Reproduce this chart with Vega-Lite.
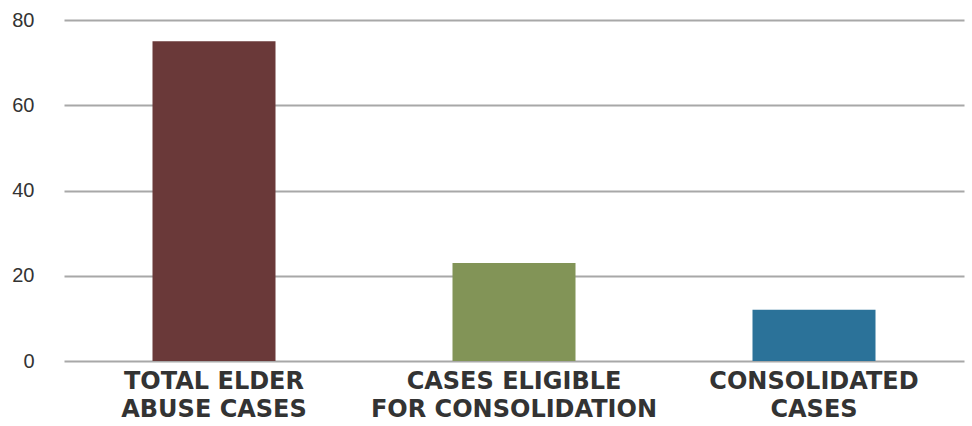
{
  "$schema": "https://vega.github.io/schema/vega-lite/v6.json",
  "autosize": "none",
  "width": 900,
  "height": 341,
  "padding": {"left": 64, "top": 20, "right": 8, "bottom": 65},
  "background": "white",
  "data": {"values": [
    {"category": "TOTAL ELDER|ABUSE CASES", "value": 75, "order": 1},
    {"category": "CASES ELIGIBLE|FOR CONSOLIDATION", "value": 23, "order": 2},
    {"category": "CONSOLIDATED|CASES", "value": 12, "order": 3}
  ]},
  "mark": {"type": "bar"},
  "encoding": {
    "x": {
      "field": "category", "type": "nominal", "sort": {"field": "order"},
      "scale": {"paddingInner": 0.59, "paddingOuter": 0.295},
      "axis": {
        "title": null, "domain": false, "ticks": false, "labelAngle": 0,
        "labelExpr": "split(datum.label, '|')", "labelLimit": 0,
        "labelFont": "DejaVu Sans", "labelFontWeight": "bold", "labelFontSize": 24,
        "labelColor": "#333333", "labelPadding": 8, "labelLineHeight": 28, "labelBaseline": "top"
      }
    },
    "y": {
      "field": "value", "type": "quantitative",
      "scale": {"domain": [0, 80]},
      "axis": {
        "title": null, "values": [0, 20, 40, 60, 80], "domain": false, "ticks": false,
        "labelFont": "Liberation Sans", "labelFontSize": 20, "labelColor": "#333333",
        "labelPadding": 30, "gridColor": "#a8a8a8", "gridWidth": 2
      }
    },
    "color": {
      "field": "category", "type": "nominal", "legend": null,
      "scale": {"domain": ["TOTAL ELDER|ABUSE CASES", "CASES ELIGIBLE|FOR CONSOLIDATION", "CONSOLIDATED|CASES"],
                "range": ["#6a3939", "#829457", "#2b7299"]}
    }
  },
  "config": {"view": {"stroke": null}}
}
